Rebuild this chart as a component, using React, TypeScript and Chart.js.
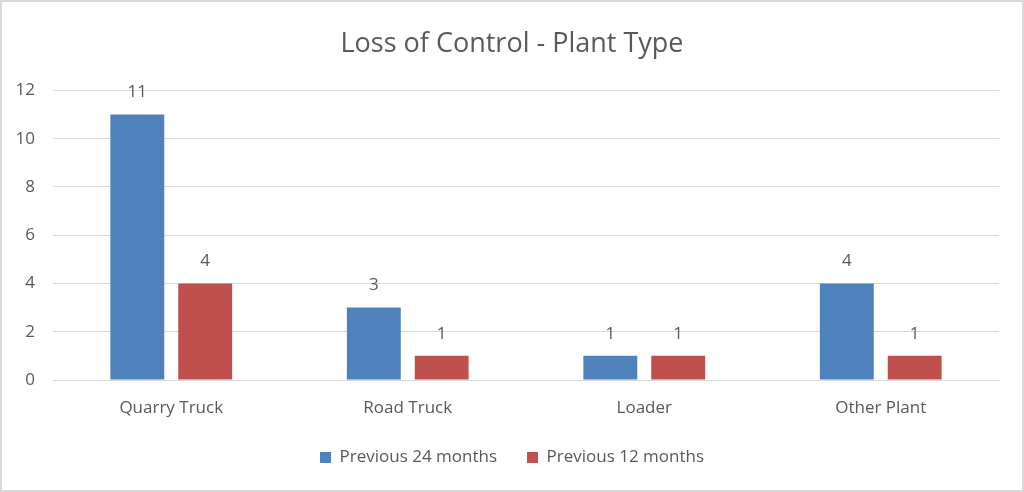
import { useEffect, useRef } from "react";
import { Chart, registerables, type Plugin } from "chart.js";

Chart.register(...registerables);

const categories = ["Quarry Truck", "Road Truck", "Loader", "Other Plant"];
const prev24 = [11, 3, 1, 4];
const prev12 = [4, 1, 1, 1];
const seriesLabels = ["Previous 24 months", "Previous 12 months"];

const TEXT = "#595959";
const FONT = "'Open Sans', 'Noto Sans', sans-serif";

// numbers above each bar
const valueLabels: Plugin<"bar"> = {
  id: "valueLabels",
  afterDatasetsDraw(chart) {
    const { ctx } = chart;
    ctx.save();
    ctx.fillStyle = TEXT;
    ctx.font = `17px ${FONT}`;
    ctx.textAlign = "center";
    ctx.textBaseline = "middle";
    chart.data.datasets.forEach((ds, i) => {
      chart.getDatasetMeta(i).data.forEach((bar, j) => {
        ctx.fillText(String(ds.data[j]), bar.x, bar.y - 22);
      });
    });
    ctx.restore();
  },
};

export default function App() {
  const canvasRef = useRef<HTMLCanvasElement>(null);

  useEffect(() => {
    document.body.style.margin = "0";
    if (!canvasRef.current) return;
    const chart = new Chart(canvasRef.current, {
      type: "bar",
      data: {
        labels: categories,
        datasets: [
          { label: seriesLabels[0], data: prev24, backgroundColor: "#4f81bd" },
          { label: seriesLabels[1], data: prev12, backgroundColor: "#c0504d" },
        ],
      },
      plugins: [valueLabels],
      options: {
        animation: false,
        responsive: false,
        devicePixelRatio: 1,
        layout: { padding: { left: 1, right: 1, top: 0, bottom: 14 } },
        datasets: { bar: { categoryPercentage: 0.574, barPercentage: 0.794 } },
        scales: {
          x: {
            grid: { display: false },
            border: { color: "#d9d9d9" },
            ticks: { color: TEXT, font: { family: FONT, size: 17 }, padding: 10 },
            afterFit(s) {
              s.height = 39;
            },
          },
          y: {
            min: 0,
            max: 12,
            ticks: { stepSize: 2, color: TEXT, font: { family: FONT, size: 17 }, padding: 18 },
            grid: { color: "#d9d9d9", drawTicks: false },
            border: { display: false },
            afterFit(s) {
              s.width = 50;
            },
          },
          // empty right-hand spacer so the plot ends where the reference does
          y2: {
            position: "right",
            grid: { display: false },
            ticks: { display: false },
            border: { display: false },
            afterFit(s) {
              s.width = 22;
            },
          },
        },
        plugins: {
          title: {
            display: true,
            text: "Loss of Control - Plant Type",
            color: TEXT,
            font: { family: FONT, size: 27, weight: "normal" },
            padding: { top: 26, bottom: 30 },
          },
          legend: {
            position: "bottom",
            labels: {
              color: TEXT,
              font: { family: FONT, size: 17 },
              boxWidth: 11,
              boxHeight: 11,
              padding: 30,
            },
          },
          tooltip: { enabled: false },
        },
      },
    });
    return () => chart.destroy();
  }, []);

  return (
    <div
      style={{
        position: "relative",
        width: 1024,
        height: 492,
        boxSizing: "border-box",
        border: "2px solid #d9d9d9",
        background: "#fff",
      }}
    >
      <canvas
        ref={canvasRef}
        width={1020}
        height={488}
        style={{ display: "block", width: 1020, height: 488 }}
      />
    </div>
  );
}
